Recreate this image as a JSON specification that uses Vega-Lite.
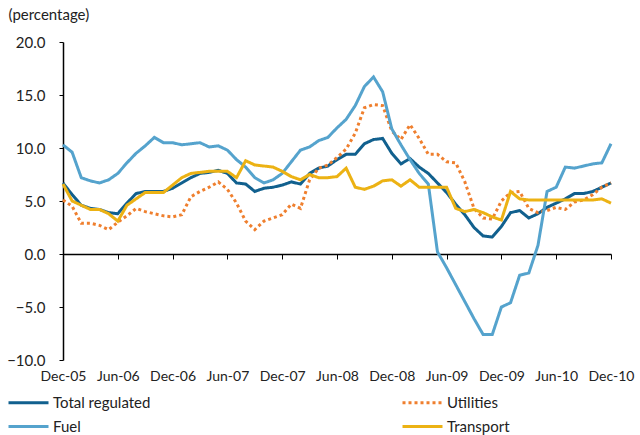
{
"$schema":"https://vega.github.io/schema/vega-lite/v6.json",
"width":548,"height":318,
"autosize":"none",
"padding":{"left":63,"top":42,"right":29,"bottom":75},
"background":"white",
"config":{"font":"Lato","view":{"stroke":null}},
"datasets":{"d":[
{"m":"Dec-05","tr":6.7,"fuel":10.3,"util":5.1,"trans":6.6},
{"m":"Jan-06","tr":5.6,"fuel":9.6,"util":4.5,"trans":5.0},
{"m":"Feb-06","tr":4.6,"fuel":7.2,"util":2.9,"trans":4.6},
{"m":"Mar-06","tr":4.3,"fuel":6.9,"util":2.9,"trans":4.2},
{"m":"Apr-06","tr":4.2,"fuel":6.7,"util":2.7,"trans":4.2},
{"m":"May-06","tr":3.9,"fuel":7.0,"util":2.3,"trans":3.8},
{"m":"Jun-06","tr":3.8,"fuel":7.6,"util":3.0,"trans":3.1},
{"m":"Jul-06","tr":4.8,"fuel":8.6,"util":3.6,"trans":4.6},
{"m":"Aug-06","tr":5.7,"fuel":9.5,"util":4.3,"trans":5.2},
{"m":"Sep-06","tr":5.9,"fuel":10.2,"util":4.0,"trans":5.8},
{"m":"Oct-06","tr":5.9,"fuel":11.0,"util":3.8,"trans":5.8},
{"m":"Nov-06","tr":5.9,"fuel":10.5,"util":3.6,"trans":5.8},
{"m":"Dec-06","tr":6.2,"fuel":10.5,"util":3.5,"trans":6.5},
{"m":"Jan-07","tr":6.7,"fuel":10.3,"util":3.7,"trans":7.2},
{"m":"Feb-07","tr":7.2,"fuel":10.4,"util":5.4,"trans":7.6},
{"m":"Mar-07","tr":7.6,"fuel":10.5,"util":5.9,"trans":7.7},
{"m":"Apr-07","tr":7.7,"fuel":10.1,"util":6.3,"trans":7.8},
{"m":"May-07","tr":7.9,"fuel":10.2,"util":6.8,"trans":7.8},
{"m":"Jun-07","tr":7.6,"fuel":9.8,"util":6.1,"trans":7.8},
{"m":"Jul-07","tr":6.7,"fuel":8.9,"util":4.8,"trans":7.2},
{"m":"Aug-07","tr":6.6,"fuel":8.2,"util":3.1,"trans":8.8},
{"m":"Sep-07","tr":5.9,"fuel":7.2,"util":2.3,"trans":8.4},
{"m":"Oct-07","tr":6.2,"fuel":6.7,"util":3.1,"trans":8.3},
{"m":"Nov-07","tr":6.3,"fuel":7.0,"util":3.4,"trans":8.2},
{"m":"Dec-07","tr":6.5,"fuel":7.6,"util":3.7,"trans":7.8},
{"m":"Jan-08","tr":6.8,"fuel":8.7,"util":4.7,"trans":7.3},
{"m":"Feb-08","tr":6.6,"fuel":9.8,"util":4.3,"trans":7.0},
{"m":"Mar-08","tr":7.6,"fuel":10.1,"util":7.0,"trans":7.5},
{"m":"Apr-08","tr":8.1,"fuel":10.7,"util":8.1,"trans":7.2},
{"m":"May-08","tr":8.3,"fuel":11.0,"util":8.4,"trans":7.2},
{"m":"Jun-08","tr":8.9,"fuel":11.9,"util":9.1,"trans":7.3},
{"m":"Jul-08","tr":9.4,"fuel":12.7,"util":9.9,"trans":8.1},
{"m":"Aug-08","tr":9.4,"fuel":14.0,"util":11.4,"trans":6.3},
{"m":"Sep-08","tr":10.4,"fuel":15.8,"util":13.8,"trans":6.1},
{"m":"Oct-08","tr":10.8,"fuel":16.7,"util":14.1,"trans":6.4},
{"m":"Nov-08","tr":10.9,"fuel":15.3,"util":14.0,"trans":6.9},
{"m":"Dec-08","tr":9.5,"fuel":11.8,"util":11.6,"trans":7.0},
{"m":"Jan-09","tr":8.5,"fuel":10.3,"util":10.8,"trans":6.4},
{"m":"Feb-09","tr":9.0,"fuel":8.9,"util":12.2,"trans":7.0},
{"m":"Mar-09","tr":8.2,"fuel":7.6,"util":10.9,"trans":6.3},
{"m":"Apr-09","tr":7.6,"fuel":6.6,"util":9.4,"trans":6.3},
{"m":"May-09","tr":6.7,"fuel":0.2,"util":9.4,"trans":6.3},
{"m":"Jun-09","tr":5.8,"fuel":-1.3,"util":8.7,"trans":6.3},
{"m":"Jul-09","tr":4.7,"fuel":-2.9,"util":8.6,"trans":4.3},
{"m":"Aug-09","tr":3.7,"fuel":-4.5,"util":6.8,"trans":4.0},
{"m":"Sep-09","tr":2.5,"fuel":-6.1,"util":4.3,"trans":4.2},
{"m":"Oct-09","tr":1.7,"fuel":-7.6,"util":3.4,"trans":3.9},
{"m":"Nov-09","tr":1.6,"fuel":-7.6,"util":3.3,"trans":3.5},
{"m":"Dec-09","tr":2.6,"fuel":-5.0,"util":5.0,"trans":3.2},
{"m":"Jan-10","tr":3.9,"fuel":-4.6,"util":5.8,"trans":5.9},
{"m":"Feb-10","tr":4.1,"fuel":-2.0,"util":5.9,"trans":5.2},
{"m":"Mar-10","tr":3.4,"fuel":-1.8,"util":4.3,"trans":5.1},
{"m":"Apr-10","tr":3.8,"fuel":0.8,"util":3.9,"trans":5.1},
{"m":"May-10","tr":4.4,"fuel":5.9,"util":4.1,"trans":5.1},
{"m":"Jun-10","tr":4.8,"fuel":6.3,"util":4.4,"trans":5.1},
{"m":"Jul-10","tr":5.2,"fuel":8.2,"util":4.2,"trans":5.1},
{"m":"Aug-10","tr":5.7,"fuel":8.1,"util":4.9,"trans":5.1},
{"m":"Sep-10","tr":5.7,"fuel":8.3,"util":5.1,"trans":5.1},
{"m":"Oct-10","tr":5.9,"fuel":8.5,"util":5.6,"trans":5.1},
{"m":"Nov-10","tr":6.3,"fuel":8.6,"util":6.3,"trans":5.2},
{"m":"Dec-10","tr":6.7,"fuel":10.4,"util":6.7,"trans":4.8}
]},
"data":{"name":"d"},
"transform":[{"fold":["tr","util","fuel","trans"],"as":["key","v"]},
{"lookup":"key","from":{"data":{"values":[{"key":"tr","s":"Total regulated"},{"key":"util","s":"Utilities"},{"key":"fuel","s":"Fuel"},{"key":"trans","s":"Transport"}]},"key":"key","fields":["s"]}}],
"mark":{"type":"line","strokeWidth":3},
"encoding":{
"x":{"field":"m","type":"ordinal","sort":null,"scale":{"type":"point","padding":0},
"axis":{"title":null,"values":["Dec-05","Jun-06","Dec-06","Jun-07","Dec-07","Jun-08","Dec-08","Jun-09","Dec-09","Jun-10","Dec-10"],"offset":-106,"domainColor":"#000","domainWidth":1.5,"tickColor":"#000","tickSize":5,"labelPadding":110,"labelAngle":0,"labelFontSize":14,"labelColor":"#222","labelOverlap":false,"grid":false}},
"y":{"field":"v","type":"quantitative","scale":{"domain":[-10,20],"nice":false,"zero":false},
"axis":{"title":"(percentage)","titleAngle":0,"titleAlign":"left","titleBaseline":"top","titleX":-55,"titleY":-35,"titleFontSize":15,"titleFontWeight":"normal","titleColor":"#222","values":[-10,-5,0,5,10,15,20],"format":".1f","tickSize":4,"labelPadding":14,"labelFontSize":15,"labelColor":"#222","grid":false,"domainColor":"#000","domainWidth":1.5,"tickColor":"#000"}},
"color":{"field":"s","type":"nominal","scale":{"domain":["Total regulated","Fuel","Utilities","Transport"],"range":["#11608e","#55a3cd","#ef7f2e","#ecb214"]},
"legend":{"title":null,"orient":"none","legendX":-42,"legendY":353,"columns":2,"columnPadding":245,"rowPadding":8,"symbolType":"M-4,0H4","symbolSize":100,"symbolStrokeWidth":3,"labelFontSize":15,"labelOffset":17,"labelColor":"#222"}},
"strokeDash":{"field":"s","type":"nominal","scale":{"domain":["Total regulated","Fuel","Utilities","Transport"],"range":[[1,0],[1,0],[3,3],[1,0]]},
"legend":{"title":null,"orient":"none","legendX":-42,"legendY":353,"columns":2,"columnPadding":245,"rowPadding":8,"symbolType":"M-4,0H4","symbolSize":100,"symbolStrokeWidth":3,"labelFontSize":15,"labelOffset":17,"labelColor":"#222"}}
}
}
